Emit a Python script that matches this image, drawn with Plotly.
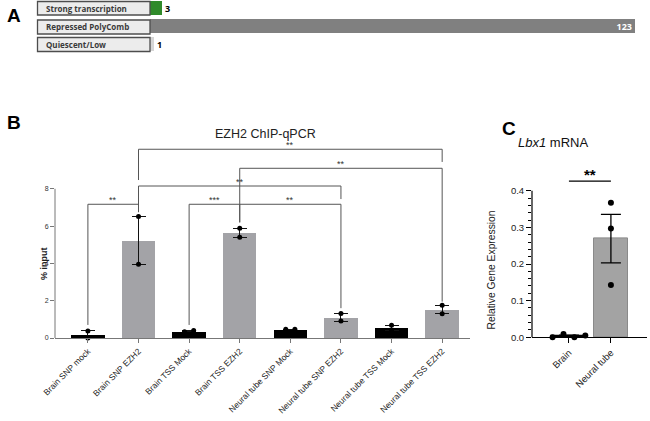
import plotly.graph_objects as go
import numpy as np

# ---------------- data ----------------
# Panel A: chromatin states
a_states = ["Strong transcription", "Repressed PolyComb", "Quiescent/Low"]
a_counts = [3, 123, 1]

# Panel B: EZH2 ChIP-qPCR (% input), two replicates
b_categories = ["Brain SNP mock", "Brain SNP EZH2", "Brain TSS Mock", "Brain TSS EZH2",
                "Neural tube SNP Mock", "Neural tube SNP EZH2", "Neural tube TSS Mock",
                "Neural tube TSS EZH2"]
b_rep1 = [0.38, 6.52, 0.33, 5.88, 0.47, 1.32, 0.68, 1.75]
b_rep2 = [0.00, 3.95, 0.40, 5.40, 0.47, 0.91, 0.39, 1.30]
b_is_mock = [True, False, True, False, True, False, True, False]
b_tick_values = [0, 2, 4, 6, 8]
# significance comparisons (group i, group j, label)
b_comparisons = [(0, 1, "**"), (2, 3, "***"), (3, 5, "**"), (1, 5, "**"), (3, 7, "**"), (1, 7, "**")]

# Panel C: Lbx1 mRNA
c_categories = ["Brain", "Neural tube"]
c_brain = [0.000, 0.009, 0.000, 0.005]
c_neural = [0.367, 0.297, 0.143]
c_tick_values = [0.0, 0.1, 0.2, 0.3, 0.4]
c_label = "**"

# ---------------- layout helpers ----------------
W, H = 650, 421
FONT = "Liberation Sans, Arial, sans-serif"
def px(x): return x / W
def py(y): return 1 - y / H

fig = go.Figure()

# ---------- Panel A ----------
a_colors = ["#2f8a2a", "#808080", "#d6d6d6"]
fig.add_trace(go.Bar(
    x=a_counts, y=list(range(len(a_counts))), orientation="h", width=0.78,
    marker=dict(color=a_colors, line=dict(width=0)),
    text=[str(c) for c in a_counts],
    textposition=["outside", "inside", "outside"], insidetextanchor="end",
    constraintext="none", textangle=0,
    textfont=dict(family="Open Sans", size=9, color=["black", "white", "black"], weight="bold"),
    cliponaxis=False, xaxis="x", yaxis="y", showlegend=False, hoverinfo="skip"))

row_px = [(1.5, 15), (20, 34), (37.5, 51.5)]
shapes = []
annotations = []
for (y0, y1), name in zip(row_px, a_states):
    shapes.append(dict(type="rect", xref="paper", yref="paper", x0=px(37.5), x1=px(150),
                       y0=py(y1), y1=py(y0), fillcolor="#ececec",
                       line=dict(color="#4d4d4d", width=1.3)))
    annotations.append(dict(text=name, x=px(44), y=py((y0 + y1) / 2), xref="paper", yref="paper",
                            xanchor="left", yanchor="middle", showarrow=False,
                            font=dict(family="Open Sans", size=8, color="#3a3a3a", weight="bold")))

# ---------- Panel B ----------
b_means = [(a + b) / 2 for a, b in zip(b_rep1, b_rep2)]
b_hi = [max(a, b) - m for a, b, m in zip(b_rep1, b_rep2, b_means)]
b_lo = [m - min(a, b) for a, b, m in zip(b_rep1, b_rep2, b_means)]
b_colors = ["#000000" if m else "#a3a3a7" for m in b_is_mock]
xb = list(range(len(b_categories)))
fig.add_trace(go.Bar(
    x=xb, y=b_means, width=0.66, marker=dict(color=b_colors, line=dict(width=0)),
    error_y=dict(type="data", symmetric=False, array=b_hi, arrayminus=b_lo,
                 color="#111", thickness=1, width=7),
    xaxis="x2", yaxis="y2", showlegend=False, hoverinfo="skip"))
ptx, pty = [], []
for i, (a, b) in enumerate(zip(b_rep1, b_rep2)):
    off = 0.09 if abs(a - b) < 0.12 else 0.0
    ptx += [i - off, i + off]
    pty += [a, b]
fig.add_trace(go.Scatter(x=ptx, y=pty, mode="markers", marker=dict(color="black", size=5),
                         xaxis="x2", yaxis="y2", showlegend=False, hoverinfo="skip", cliponaxis=False))

B_YMAX = 10.8
B_SCALE = 18.65
b_dom = [py(338), py(338 - B_YMAX * B_SCALE)]
# bracket heights (data units) and leg ends
b_levels = [7.17, 7.17, 7.17, 8.15, 9.10, 10.12]
b_leg_ends = [(0.7, 6.75), (0.7, 6.2), (6.2, 1.6), (6.75, 7.45), (7.17, 1.95), (8.47, 9.44)]
for (i, j, lab), lev, (l0, l1) in zip(b_comparisons, b_levels, b_leg_ends):
    ln = dict(color="#555", width=1)
    shapes.append(dict(type="path", xref="x2", yref="y2",
                       path=f"M {i},{l0} L {i},{lev} L {j},{lev} L {j},{l1}", line=ln))
    annotations.append(dict(text=lab, x=(i + j) / 2, y=lev, xref="x2", yref="y2",
                            xanchor="center", yanchor="bottom", showarrow=False, yshift=-3,
                            font=dict(family=FONT, size=9, color="#333")))
# y axis line for B (0..8)
shapes.append(dict(type="line", xref="paper", yref="paper", x0=px(55), x1=px(55),
                   y0=py(338), y1=py(338 - 8 * B_SCALE), line=dict(color="#777", width=1)))

# ---------- Panel C ----------
c_means = [float(np.mean(c_brain)), float(np.mean(c_neural))]
c_sem = [float(np.std(c_brain, ddof=1) / np.sqrt(len(c_brain))),
         float(np.std(c_neural, ddof=1) / np.sqrt(len(c_neural)))]
fig.add_trace(go.Bar(
    x=[0, 1], y=c_means, width=0.82,
    marker=dict(color=["#a3a3a3", "#a3a3a3"], line=dict(color=["#000", "#8a8a8a"], width=[1.6, 1])),
    error_y=dict(type="data", array=c_sem, color="black", thickness=1.3, width=10),
    xaxis="x3", yaxis="y3", showlegend=False, hoverinfo="skip"))
cx, cy = [], []
for i, grp in enumerate([c_brain, c_neural]):
    spread = (max(grp) - min(grp)) < 0.02
    offs = np.linspace(-0.39, 0.39, len(grp)) if spread else np.zeros(len(grp))
    cx += list(i + offs)
    cy += list(grp)
fig.add_trace(go.Scatter(x=cx, y=cy, mode="markers", marker=dict(color="black", size=6),
                         xaxis="x3", yaxis="y3", showlegend=False, hoverinfo="skip", cliponaxis=False))
C_YMAX = 0.45
C_SCALE = 366.5
c_dom = [py(337.3), py(337.3 - C_YMAX * C_SCALE)]
shapes.append(dict(type="line", xref="paper", yref="paper", x0=px(532), x1=px(532),
                   y0=py(337.3), y1=py(337.3 - 0.4 * C_SCALE), line=dict(color="black", width=1.2)))
shapes.append(dict(type="line", xref="x3", yref="y3", x0=0, x1=1, y0=0.426, y1=0.426,
                   line=dict(color="black", width=1.3)))
annotations.append(dict(text=c_label, x=0.5, y=0.426, xref="x3", yref="y3", xanchor="center",
                        yanchor="bottom", showarrow=False, yshift=-4,
                        font=dict(family=FONT, size=15, color="black", weight="bold")))

# ---------- titles / labels ----------
for txt, x, y in [("A", 14, 15), ("B", 14, 122), ("C", 509, 128)]:
    annotations.append(dict(text=txt, x=px(x), y=py(y), xref="paper", yref="paper",
                            xanchor="center", yanchor="middle", showarrow=False,
                            font=dict(family=FONT, size=19, color="black", weight="bold")))
annotations.append(dict(text="EZH2 ChIP-qPCR", x=px(265), y=py(125), xref="paper", yref="paper",
                        showarrow=False, font=dict(family=FONT, size=12.5, color="#222")))
annotations.append(dict(text="<i>Lbx1</i> mRNA", x=px(590), y=py(133), xref="paper", yref="paper",
                        showarrow=False, font=dict(family=FONT, size=13, color="#111")))
annotations.append(dict(text="% input", x=px(37), y=py(264), xref="paper", yref="paper",
                        textangle=-90, showarrow=False,
                        font=dict(family=FONT, size=9, color="#222", weight="bold")))
annotations.append(dict(text="Relative Gene Expression", x=px(498), y=py(270), xref="paper", yref="paper",
                        textangle=-90, showarrow=False,
                        font=dict(family=FONT, size=10.3, color="#222")))

fig.update_layout(
    template="none",
    width=W, height=H, margin=dict(l=0, r=0, t=0, b=0, pad=0, autoexpand=False),
    paper_bgcolor="white", plot_bgcolor="white", bargap=0,
    shapes=shapes, annotations=annotations,
    xaxis=dict(domain=[px(150), px(635)], range=[0, 123], visible=False, fixedrange=True, automargin=False),
    yaxis=dict(domain=[py(54), 1], range=[2.53, -0.47], visible=False, fixedrange=True, automargin=False),
    xaxis2=dict(domain=[px(55), px(470)], range=[-0.65, 7.55], anchor="y2", automargin=False,
                tickmode="array", tickvals=xb, ticktext=b_categories, tickangle=-45,
                ticks="outside", ticklen=4, tickcolor="#777", showline=True, linecolor="#777",
                linewidth=1, showgrid=False, zeroline=False,
                tickfont=dict(family=FONT, size=8.5, color="#222")),
    yaxis2=dict(domain=b_dom, range=[0, B_YMAX], anchor="x2", tickmode="array", automargin=False,
                tickvals=b_tick_values, ticks="outside", ticklen=4, tickcolor="#777",
                showline=False, showgrid=False, zeroline=False,
                tickfont=dict(family=FONT, size=7, color="#333")),
    xaxis3=dict(domain=[px(532), px(647)], range=[-0.88, 1.86], anchor="y3", automargin=False,
                tickmode="array", tickvals=[0, 1], ticktext=c_categories, tickangle=-45,
                ticks="outside", ticklen=5, tickcolor="black", showline=True, linecolor="black",
                linewidth=1.2, showgrid=False, zeroline=False,
                tickfont=dict(family=FONT, size=9.5, color="#222")),
    yaxis3=dict(domain=c_dom, range=[0, C_YMAX], anchor="x3", tickmode="array", automargin=False,
                tickvals=c_tick_values, tickformat=".1f", ticks="outside", ticklen=5,
                tickcolor="black", tickwidth=1.2, showline=False, showgrid=False, zeroline=False,
                minor=dict(tickmode="array", tickvals=[round(0.02 * k, 2) for k in range(21)],
                           ticks="outside", ticklen=3, tickcolor="black"),
                tickfont=dict(family=FONT, size=9.5, color="#222")),
)

fig.write_html("out.html", config={"displayModeBar": False},
               post_script="document.body.style.margin='0';")
